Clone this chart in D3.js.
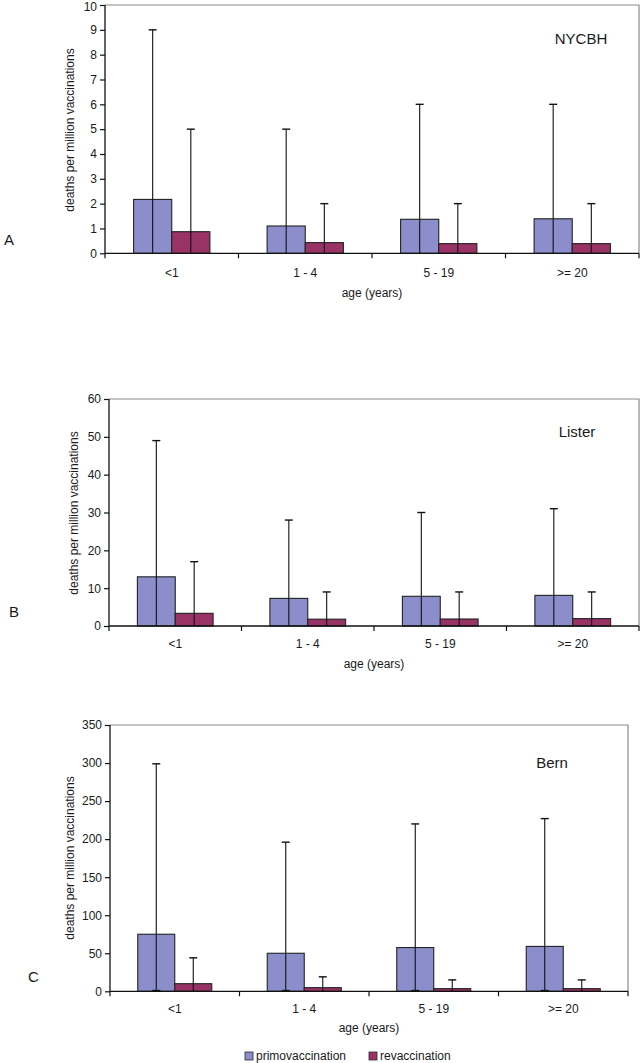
<!DOCTYPE html>
<html>
<head>
<meta charset="utf-8">
<script src="https://cdn.jsdelivr.net/npm/d3@7"></script>
<style>
  html, body { margin: 0; padding: 0; background: #fff; }
  svg { display: block; }
  text { font-family: "Liberation Sans", Arial, sans-serif; fill: #1a1a1a; }
</style>
</head>
<body>
<svg id="chart" width="640" height="1063"></svg>
<script>
// ---- data ----
const categories = ["<1", "1 - 4", "5 - 19", ">= 20"];
const seriesNames = ["primovaccination", "revaccination"];

const nycbhPrimo = [2.17, 1.10, 1.37, 1.39];
const nycbhRevac = [0.87, 0.43, 0.39, 0.39];
const nycbhPrimoUpper = [9, 5, 6, 6];
const nycbhRevacUpper = [5, 2, 2, 2];
const nycbhPrimoLower = [0, 0, 0, 0];
const nycbhRevacLower = [0, 0, 0, 0];
const nycbhTicks = [0, 1, 2, 3, 4, 5, 6, 7, 8, 9, 10];

const listerPrimo = [13.0, 7.3, 7.85, 8.1];
const listerRevac = [3.35, 1.8, 1.85, 1.95];
const listerPrimoUpper = [49, 28, 30, 31];
const listerRevacUpper = [17, 9, 9, 9];
const listerPrimoLower = [0, 0, 0, 0];
const listerRevacLower = [0, 0, 0, 0];
const listerTicks = [0, 10, 20, 30, 40, 50, 60];

const bernPrimo = [75, 50, 57.5, 59];
const bernRevac = [10, 4.8, 3.5, 3.5];
const bernPrimoUpper = [299, 196, 220, 227];
const bernRevacUpper = [44, 19, 15, 15];
const bernPrimoLower = [1, 1, 1, 1];
const bernRevacLower = [0, 0, 0, 0];
const bernTicks = [0, 50, 100, 150, 200, 250, 300, 350];

const panelNames = ["NYCBH", "Lister", "Bern"];
const panelLetters = ["A", "B", "C"];
const yTitle = "deaths per million vaccinations";
const xTitle = "age (years)";

// ---- layout (not data) ----
const colors = ["#8c8ecb", "#993366"];
const layouts = [
  { left: 105, right: 639, top: 5, bottom: 253.3, max: 10, ticks: nycbhTicks,
    vals: [nycbhPrimo, nycbhRevac], up: [nycbhPrimoUpper, nycbhRevacUpper], lo: [nycbhPrimoLower, nycbhRevacLower],
    titleX: 581, titleY: 44, letterX: 4, letterY: 245, yLabX: 70, yLabY: 130, xTickY: 277, xTitleY: 297 },
  { left: 109, right: 639, top: 399, bottom: 626, max: 60, ticks: listerTicks,
    vals: [listerPrimo, listerRevac], up: [listerPrimoUpper, listerRevacUpper], lo: [listerPrimoLower, listerRevacLower],
    titleX: 577, titleY: 437, letterX: 9, letterY: 617, yLabX: 74, yLabY: 513, xTickY: 648, xTitleY: 668 },
  { left: 110, right: 628, top: 725, bottom: 991.3, max: 350, ticks: bernTicks,
    vals: [bernPrimo, bernRevac], up: [bernPrimoUpper, bernRevacUpper], lo: [bernPrimoLower, bernRevacLower],
    titleX: 552, titleY: 768, letterX: 28, letterY: 982, yLabX: 70, yLabY: 858, xTickY: 1013, xTitleY: 1032 }
];

const svg = d3.select("#chart");

layouts.forEach((L, pi) => {
  const g = svg.append("g");
  const x = d3.scaleBand().domain(categories).range([L.left, L.right]).paddingInner(0).paddingOuter(0);
  const xs = d3.scaleBand().domain(d3.range(seriesNames.length)).range([0, x.bandwidth()]).paddingInner(0).paddingOuter(0.75);
  const y = d3.scaleLinear().domain([0, L.max]).range([L.bottom, L.top]);

  // frame top/right (gray)
  g.append("path")
    .attr("d", `M${L.left},${L.top}H${L.right}V${L.bottom}`)
    .attr("fill", "none").attr("stroke", "#8a8a8a").attr("stroke-width", 1.2);

  // bars
  seriesNames.forEach((s, si) => {
    g.selectAll(null).data(categories).enter().append("rect")
      .attr("x", c => x(c) + xs(si))
      .attr("y", (c, i) => y(L.vals[si][i]))
      .attr("width", xs.bandwidth())
      .attr("height", (c, i) => y(0) - y(L.vals[si][i]))
      .attr("fill", colors[si])
      .attr("stroke", "#222").attr("stroke-width", 1.1);
  });

  // error bars
  seriesNames.forEach((s, si) => {
    categories.forEach((c, i) => {
      const cx = x(c) + xs(si) + xs.bandwidth() / 2;
      const yU = y(L.up[si][i]);
      const yL = y(L.lo[si][i]);
      g.append("line").attr("x1", cx).attr("x2", cx).attr("y1", yL).attr("y2", yU)
        .attr("stroke", "#111").attr("stroke-width", 1.1);
      g.append("line").attr("x1", cx - 4).attr("x2", cx + 4).attr("y1", yU).attr("y2", yU)
        .attr("stroke", "#111").attr("stroke-width", 1.4);
      if (L.lo[si][i] > 0) {
        g.append("line").attr("x1", cx - 4).attr("x2", cx + 4).attr("y1", yL).attr("y2", yL)
          .attr("stroke", "#111").attr("stroke-width", 1.4);
      }
    });
  });

  // y axis
  const yAxis = d3.axisLeft(y).tickValues(L.ticks).tickSize(5).tickPadding(3).tickFormat(d3.format("d"));
  const ya = g.append("g").attr("transform", `translate(${L.left},0)`).call(yAxis);
  ya.select(".domain").attr("stroke", "#111").attr("stroke-width", 1.3).attr("d", `M0,${L.top}V${L.bottom}`);
  ya.selectAll(".tick line").attr("stroke", "#111").attr("stroke-width", 1.2);
  ya.selectAll(".tick text").attr("font-size", 12).attr("font-family", "Liberation Sans, Arial, sans-serif").attr("fill", "#1a1a1a")
    .attr("dy", d => (y(d) < 8 ? "0.45em" : "0.32em"));

  // x axis: ticks at band boundaries
  const xa = g.append("g");
  xa.append("line").attr("x1", L.left).attr("x2", L.right).attr("y1", L.bottom).attr("y2", L.bottom)
    .attr("stroke", "#111").attr("stroke-width", 1.3);
  const bounds = categories.map(c => x(c)).concat([L.right]);
  xa.selectAll(null).data(bounds).enter().append("line")
    .attr("x1", d => d).attr("x2", d => d).attr("y1", L.bottom).attr("y2", L.bottom + 5)
    .attr("stroke", "#111").attr("stroke-width", 1.2);
  xa.selectAll(null).data(categories).enter().append("text")
    .attr("x", c => x(c) + x.bandwidth() / 2).attr("y", L.xTickY)
    .attr("text-anchor", "middle").attr("font-size", 12).text(c => c);

  // axis titles
  g.append("text").attr("x", (L.left + L.right) / 2).attr("y", L.xTitleY)
    .attr("text-anchor", "middle").attr("font-size", 12).text(xTitle);
  g.append("text").attr("transform", `translate(${L.yLabX},${L.yLabY}) rotate(-90)`)
    .attr("text-anchor", "middle").attr("dominant-baseline", "central")
    .attr("font-size", 12).text(yTitle);

  // panel name
  g.append("text").attr("x", L.titleX).attr("y", L.titleY).attr("text-anchor", "middle")
    .attr("font-size", 15).text(panelNames[pi]);
  // panel letter
  g.append("text").attr("x", L.letterX).attr("y", L.letterY)
    .attr("font-size", 15).text(panelLetters[pi]);
});

// legend
const legend = svg.append("g");
const legX = [245, 369];
seriesNames.forEach((s, si) => {
  legend.append("rect").attr("x", legX[si]).attr("y", 1052).attr("width", 8).attr("height", 8)
    .attr("fill", colors[si]).attr("stroke", "#2a2a2a").attr("stroke-width", 0.8);
  legend.append("text").attr("x", legX[si] + 11).attr("y", 1060).attr("font-size", 12).text(s);
});
</script>
</body>
</html>
